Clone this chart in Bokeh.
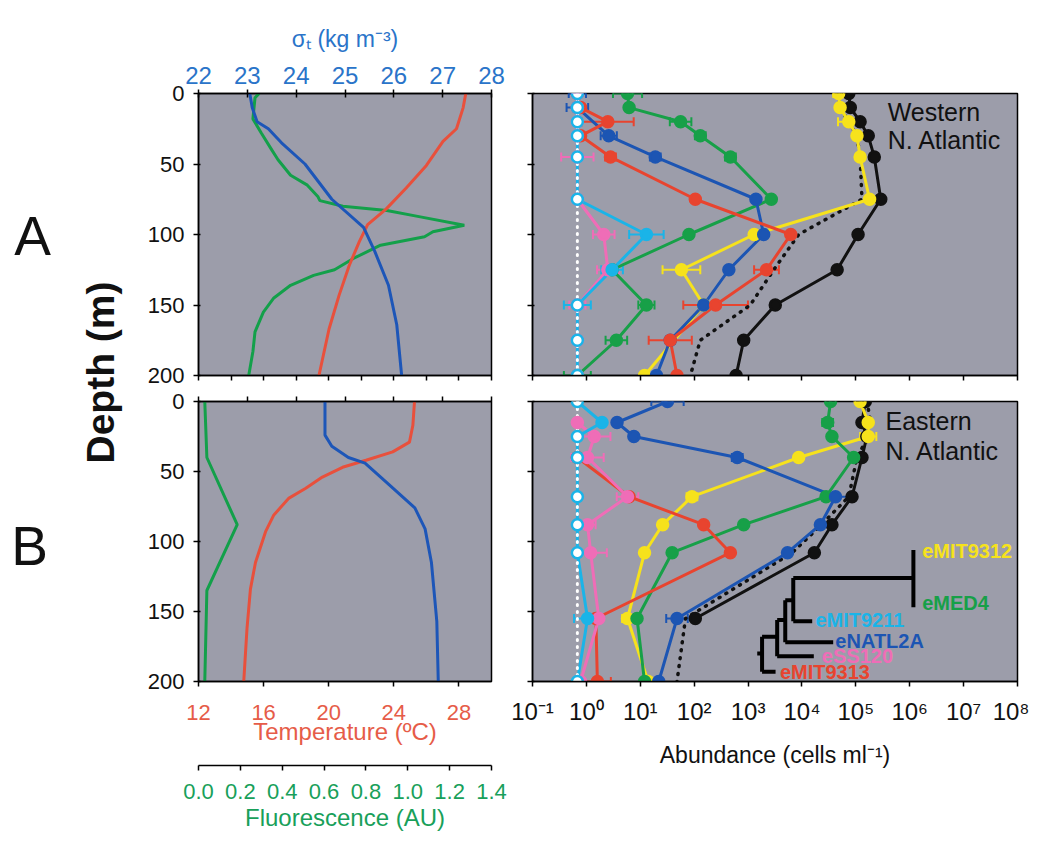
import math
from bokeh.plotting import figure
from bokeh.models import (Range1d, LinearAxis, LogAxis, FixedTicker, Whisker, TeeHead,
                          ColumnDataSource, PrintfTickFormatter)
from bokeh.layouts import row, column
from bokeh.embed import file_html
from bokeh.resources import INLINE
from bokeh.core.properties import value

# ---------------- data ----------------
depth_ticks = [0, 50, 100, 150, 200]
sigma_ticks = [22, 23, 24, 25, 26, 27, 28]
temp_ticks = [12, 16, 20, 24, 28]
temp_minor_ticks = [12, 14, 16, 18, 20, 22, 24, 26, 28, 30]
fluor_ticks = [0.0, 0.2, 0.4, 0.6, 0.8, 1.0, 1.2, 1.4]
abund_ticks = [1e-1, 1e0, 1e1, 1e2, 1e3, 1e4, 1e5, 1e6, 1e7, 1e8]
abund_labels = ["10⁻¹", "10⁰", "10¹", "10²", "10³", "10⁴", "10⁵", "10⁶", "10⁷", "10⁸"]

# Western N. Atlantic physical profiles
W_sigma_depth = [0, 10, 20, 25, 35, 50, 75, 95, 112, 136, 164, 200]
W_sigma = [23.05, 23.1, 23.2, 23.43, 23.7, 24.18, 24.73, 25.38, 25.61, 25.89, 26.06, 26.16]
W_temp_depth = [0, 10, 25, 34, 51, 67, 82, 93, 105, 122, 143, 167, 200]
W_temp = [28.42, 28.26, 27.85, 27.02, 26.0, 24.76, 23.52, 22.39, 21.88, 21.26, 20.64, 20.02, 19.4]
W_fl_depth = [0, 3, 18, 28, 40, 47, 58, 65, 73, 76, 80, 83, 87.5, 93.4, 98, 101.6, 107.6,
              117, 125, 129, 136, 145, 155, 169, 183, 200]
W_fl = [0.29, 0.27, 0.26, 0.30, 0.35, 0.38, 0.44, 0.52, 0.57, 0.58, 0.69, 0.90, 1.06, 1.27,
        1.12, 1.08, 0.87, 0.74, 0.65, 0.55, 0.44, 0.36, 0.31, 0.27, 0.26, 0.24]

# Eastern N. Atlantic physical profiles
E_sigma_depth = [0, 24, 32, 40, 44, 59, 76, 91, 115, 157, 200]
E_sigma = [24.59, 24.59, 24.73, 25.07, 25.41, 25.89, 26.43, 26.64, 26.77, 26.88, 26.91]
E_temp_depth = [0, 17, 29, 36, 42, 47, 54, 62, 69, 81, 93, 115, 134, 162, 200]
E_temp = [25.27, 25.17, 24.96, 23.93, 22.29, 20.85, 19.61, 18.59, 17.56, 16.63, 16.12, 15.5,
          15.19, 14.98, 14.78]
E_fl_depth = [0, 40, 88, 135, 200]
E_fl = [0.03, 0.04, 0.185, 0.04, 0.03]

detection_limit = 0.68

# Western abundances (cells/ml)
W_depth = [0, 10, 20, 30, 45, 75, 100, 125, 150, 175, 200]
W_total = [7.4e4, 7.9e4, 1.2e5, 1.7e5, 2.2e5, 2.9e5, 1.1e5, 4.5e4, 3.2e3, 830, 600]
W_sum = [4.8e4, 5.1e4, 7.4e4, 1.05e5, 1.2e5, 1.3e5, 8.7e3, 3.0e3, 1.1e3, 130, 85]
W_eMIT9312_depth = [0, 10, 20, 30, 45, 75, 100, 125, 150, 200]
W_eMIT9312 = [4.8e4, 5.1e4, 7.4e4, 1.05e5, 1.2e5, 1.8e5, 1300, 58, 150, 12]
W_eMIT9312_err = [0.1, 0, 0.2, 0, 0, 0, 0.05, 0.35, 0, 0]
W_eMED4 = [5.8, 6.2, 56, 130, 470, 2700, 80, 3.0, 13, 3.6, 0.68]
W_eMED4_err = [0.27, 0, 0.2, 0.1, 0.1, 0, 0, 0, 0.15, 0.2, 0.25]
W_eNATL2A_depth = [0, 10, 30, 45, 75, 100, 125, 150, 175, 200]
W_eNATL2A = [0.68, 0.68, 2.6, 19, 1400, 1950, 440, 150, 36, 20]
W_eNATL2A_err = [0.16, 0.2, 0.15, 0.1, 0, 0, 0, 0.05, 0.08, 0]
W_eMIT9313_depth = [10, 20, 30, 45, 75, 100, 125, 150, 175, 200]
W_eMIT9313 = [0.78, 2.5, 0.78, 2.8, 105, 6200, 2200, 250, 36, 48]
W_eMIT9313_err = [0, 0.48, 0, 0.1, 0, 0, 0.23, 0.6, 0.4, 0]
W_eSS120 = [0.68, 0.68, 0.68, 0.68, 0.68, 0.68, 2.1, 2.5, 0.68, 0.68, 0.68]
W_eSS120_err = [0, 0, 0, 0, 0.3, 0, 0.2, 0.2, 0.15, 0, 0]
W_eMIT9211 = [0.68, 0.68, 0.68, 0.68, 0.68, 0.68, 13, 3.0, 0.68, 0.68, 0.68]
W_eMIT9211_err = [0, 0, 0, 0, 0, 0, 0.32, 0.2, 0.25, 0, 0]

# Eastern abundances (cells/ml)
E_depth = [0, 15, 25, 40, 68, 88, 108, 155, 200]
E_total_depth = [0, 15, 25, 40, 68, 88, 108, 155]
E_total = [1.5e5, 1.3e5, 1.6e5, 1.3e5, 8.5e4, 3.6e4, 1.7e4, 105]
E_sum = [1.6e5, 1.9e5, 1.7e5, 1.05e5, 7.4e4, 2.3e4, 6.6e3, 69, 48]
E_eMIT9312 = [1.2e5, 1.7e5, 1.7e5, 8.7e3, 91, 26, 12, 5.8, 14]
E_eMIT9312_err = [0, 0, 0.15, 0, 0.1, 0, 0, 0.1, 0]
E_eMED4 = [3.4e4, 3.0e4, 3.6e4, 9.1e4, 2.8e4, 830, 39, 8.7, 12]
E_eMED4_err = [0, 0.1, 0, 0, 0, 0, 0, 0, 0]
E_eNATL2A = [32, 3.7, 7.6, 630, 4.2e4, 2.2e4, 5.4e3, 48, 22]
E_eNATL2A_err = [0.3, 0, 0, 0.1, 0.25, 0, 0, 0.2, 0]
E_eMIT9313_depth = [40, 68, 88, 108, 155, 200]
E_eMIT9313 = [0.68, 6.2, 150, 470, 1.5, 1.6]
E_eMIT9313_err = [0, 0, 0, 0, 0, 0.25]
E_eSS120_depth = [15, 25, 40, 68, 88, 108, 155, 200]
E_eSS120 = [0.68, 1.4, 1.05, 5.8, 1.05, 1.2, 1.7, 0.78]
E_eSS120_err = [0, 0.3, 0.3, 0.2, 0.15, 0.3, 0, 0]
E_eMIT9211 = [0.68, 1.95, 0.68, 0.68, 0.68, 0.68, 0.68, 1.05, 0.68]
E_eMIT9211_err = [0, 0, 0, 0, 0, 0, 0, 0.25, 0]

# phylogenetic tree inset (abundance, depth)
tree_x0 = [1.17e6, 6900, 6900, 6900, 4900, 4900, 4900, 3470, 3470, 3470, 1820, 1820, 1820, 1480]
tree_y0 = [106, 126, 126, 157, 142, 142, 172, 156, 156, 182, 168, 168, 193, 180]
tree_x1 = [1.17e6, 1.17e6, 6900, 15500, 6900, 4900, 38000, 4900, 3470, 16600, 3470, 1820, 3240, 1820]
tree_y1 = [147, 126, 157, 157, 142, 172, 172, 156, 182, 182, 168, 193, 193, 180]
tree_names = ["eMIT9312", "eMED4", "eMIT9211", "eNATL2A", "eSS120", "eMIT9313"]
tree_label_x = [1.7e6, 1.7e6, 1.78e4, 4.17e4, 2.34e4, 3.9e3]
tree_label_y = [107, 144, 156, 171, 182, 193]

# ---------------- styling ----------------
FONT = "Liberation Sans"
BG = "#9c9daa"
BLUE_TXT, RED_TXT, GRN_TXT = "#2a74c9", "#e65c48", "#18a05a"
COL = dict(black="#111111", yellow="#f6e21c", green="#17a048", blue="#1c55b3",
           red="#e8442f", pink="#ef6db7", cyan="#1ab4e8")
PHY = dict(red="#e8503c", green="#13a04a", blue="#1d56b8")
tree_colors = [COL["yellow"], COL["green"], COL["cyan"], COL["blue"], COL["pink"], COL["red"]]


def style_axis(ax, labels=True, color="#111111", size="22px", standoff=8, tin=3, tout=5):
    ax.axis_line_color = "black"
    ax.axis_line_width = 1.5
    ax.major_tick_line_color = "black"
    ax.major_tick_line_width = 1.5
    ax.minor_tick_line_color = None
    ax.major_tick_in = tin
    ax.major_tick_out = tout
    ax.major_label_text_font = FONT
    if labels:
        ax.major_label_text_font_size = size
        ax.major_label_text_color = color
        ax.major_label_standoff = standoff
    else:
        ax.major_label_text_font_size = "1px"
        ax.major_label_text_color = None
        ax.major_label_standoff = 0
    ax.axis_label_text_font = FONT
    ax.axis_label_text_font_style = "normal"
    ax.axis_label_text_color = "#111111"


def base_fig(w, h, xr, yr, l, r, t, b, log=False):
    kw = dict(width=w, height=h, x_range=xr, y_range=yr, x_axis_location=None,
              y_axis_location=None, toolbar_location=None, output_backend="svg",
              min_border_left=l, min_border_right=r, min_border_top=t, min_border_bottom=b,
              background_fill_color=BG, border_fill_color="white",
              outline_line_color="black", outline_line_width=1.5)
    if log:
        kw["x_axis_type"] = "log"
    p = figure(**kw)
    p.grid.visible = False
    return p


def depth_axis(p, labels):
    ax = LinearAxis(ticker=FixedTicker(ticks=depth_ticks))
    style_axis(ax, labels=labels, size="22px", standoff=9, tin=2, tout=5)
    p.add_layout(ax, "left")


TOP_H, BOT_H, TOP_B, BOT_B = 388, 454, 93, 161

# ---------------- left panels ----------------
def phys_panel(top, sig, sig_d, tmp, tmp_d, fl, fl_d):
    if top:
        p = base_fig(370, TOP_H, Range1d(22, 28), Range1d(200, 0), 60, 17, TOP_B, 13)
        p.extra_x_ranges = {"temp": Range1d(12, 30), "fl": Range1d(0, 1.4)}
        ax = LinearAxis(ticker=FixedTicker(ticks=sigma_ticks), axis_label="σₜ (kg m⁻³)")
        style_axis(ax, labels=True, color=BLUE_TXT, size="24px", standoff=6, tin=4, tout=4)
        ax.axis_label_text_color = BLUE_TXT
        ax.axis_label_text_font_size = "23px"
        ax.axis_label_standoff = 12
        p.add_layout(ax, "above")
        bx = LinearAxis(x_range_name="temp", ticker=FixedTicker(ticks=temp_minor_ticks))
        style_axis(bx, labels=False, tin=0, tout=5)
        p.add_layout(bx, "below")
        sig_name, tmp_name = "default", "temp"
    else:
        p = base_fig(370, BOT_H, Range1d(12, 30), Range1d(200, 0), 60, 17, 13, BOT_B)
        p.extra_x_ranges = {"sig": Range1d(22, 28), "fl": Range1d(0, 1.4)}
        ax = LinearAxis(ticker=FixedTicker(ticks=temp_ticks), axis_label="Temperature (ºC)")
        style_axis(ax, labels=True, color=RED_TXT, size="22px", standoff=18, tin=0, tout=5)
        ax.axis_label_text_color = RED_TXT
        ax.axis_label_text_font_size = "24px"
        ax.axis_label_standoff = -5
        p.add_layout(ax, "below")
        # invisible spacer between the temperature and fluorescence scales
        gap = LinearAxis(x_range_name="fl", ticker=FixedTicker(ticks=[0.7]))
        style_axis(gap, labels=False, tin=0, tout=18)
        gap.axis_line_color = None
        gap.major_tick_line_color = "white"
        p.add_layout(gap, "below")
        fax = LinearAxis(x_range_name="fl", ticker=FixedTicker(ticks=fluor_ticks),
                         formatter=PrintfTickFormatter(format="%.1f"), axis_label="Fluorescence (AU)")
        style_axis(fax, labels=True, color=GRN_TXT, size="22px", standoff=13, tin=0, tout=5)
        fax.axis_label_text_color = GRN_TXT
        fax.axis_label_text_font_size = "24px"
        fax.axis_label_standoff = 2
        p.add_layout(fax, "below")
        tx = LinearAxis(x_range_name="sig", ticker=FixedTicker(ticks=sigma_ticks))
        style_axis(tx, labels=False, tin=0, tout=5)
        p.add_layout(tx, "above")
        sig_name, tmp_name = "sig", "default"
    depth_axis(p, True)
    p.line(fl, fl_d, x_range_name="fl", line_color=PHY["green"], line_width=3)
    p.line(tmp, tmp_d, x_range_name=tmp_name, line_color=PHY["red"], line_width=3)
    p.line(sig, sig_d, x_range_name=sig_name, line_color=PHY["blue"], line_width=3)
    return p


TL = phys_panel(True, W_sigma, W_sigma_depth, W_temp, W_temp_depth, W_fl, W_fl_depth)
BL = phys_panel(False, E_sigma, E_sigma_depth, E_temp, E_temp_depth, E_fl, E_fl_depth)


# ---------------- right panels ----------------
def series(p, x, d, err, color, ring=False):
    p.line(x, d, line_color=color, line_width=3)
    src_e = dict(y=[], lo=[], hi=[])
    for xi, di, ei in zip(x, d, err):
        if ei > 0:
            src_e["y"].append(di)
            src_e["lo"].append(xi / 10 ** ei)
            src_e["hi"].append(xi * 10 ** ei)
    if src_e["y"]:
        w = Whisker(source=ColumnDataSource(src_e), base="y", lower="lo", upper="hi",
                    dimension="width", line_color=color, line_width=2,
                    upper_head=TeeHead(size=9, line_color=color, line_width=2),
                    lower_head=TeeHead(size=9, line_color=color, line_width=2))
        p.add_layout(w)
    fills = [("white" if (ring and xi <= detection_limit) else color) for xi in x]
    return dict(x=x, y=d, fill=fills, color=[color] * len(x))


def abund_panel(top):
    if top:
        p = base_fig(521, TOP_H, Range1d(0.1, 1e8), Range1d(200, 0), 24, 12, TOP_B, 13, log=True)
    else:
        p = base_fig(521, BOT_H, Range1d(0.1, 1e8), Range1d(200, 0), 24, 12, 13, BOT_B, log=True)
    ax = LogAxis(ticker=FixedTicker(ticks=abund_ticks))
    if top:
        style_axis(ax, labels=False, tin=0, tout=5)
    else:
        ax.major_label_overrides = dict(zip(abund_ticks, abund_labels))
        ax.axis_label = "Abundance (cells ml⁻¹)"
        style_axis(ax, labels=True, size="24px", standoff=11, tin=0, tout=5)
        ax.axis_label_text_font_size = "23px"
        ax.axis_label_standoff = 14
    p.add_layout(ax, "below")
    depth_axis(p, False)
    return p


def fill_abund(p, total_d, total, dsum, ssum, ser):
    p.line(total, total_d, line_color=COL["black"], line_width=3)
    p.line(ssum, dsum, line_color=COL["black"], line_width=3.5, line_dash="1 7", line_cap="round")
    marks = [dict(x=total, y=total_d, fill=[COL["black"]] * len(total), color=[COL["black"]] * len(total))]
    for x, d, err, c, ring in ser:
        marks.append(series(p, x, d, err, c, ring))
    p.line([detection_limit, detection_limit], [0, 200], line_color="white", line_width=3,
           line_dash="1 6", line_cap="round")
    for m in marks:
        p.scatter("x", "y", source=ColumnDataSource(m), marker="circle", size=11,
                  fill_color="fill", line_color="color", line_width=2.5)


TR = abund_panel(True)
fill_abund(TR, W_depth, W_total, W_depth, W_sum, [
    (W_eMIT9312, W_eMIT9312_depth, W_eMIT9312_err, COL["yellow"], False),
    (W_eMED4, W_depth, W_eMED4_err, COL["green"], False),
    (W_eNATL2A, W_eNATL2A_depth, W_eNATL2A_err, COL["blue"], False),
    (W_eMIT9313, W_eMIT9313_depth, W_eMIT9313_err, COL["red"], False),
    (W_eSS120, W_depth, W_eSS120_err, COL["pink"], False),
    (W_eMIT9211, W_depth, W_eMIT9211_err, COL["cyan"], True),
])
TR.text(x=[10 ** 5.59], y=[12.8], text=["Western"], text_font=value(FONT), text_font_size="25px",
        text_color="#111111", text_baseline="middle", text_align="left")
TR.text(x=[10 ** 5.59], y=[33], text=["N. Atlantic"], text_font=value(FONT), text_font_size="25px",
        text_color="#111111", text_baseline="middle", text_align="left")

BR = abund_panel(False)
fill_abund(BR, E_total_depth, E_total, E_depth, E_sum, [
    (E_eMIT9312, E_depth, E_eMIT9312_err, COL["yellow"], False),
    (E_eMED4, E_depth, E_eMED4_err, COL["green"], False),
    (E_eNATL2A, E_depth, E_eNATL2A_err, COL["blue"], False),
    (E_eMIT9313, E_eMIT9313_depth, E_eMIT9313_err, COL["red"], False),
    (E_eSS120, E_eSS120_depth, E_eSS120_err, COL["pink"], False),
    (E_eMIT9211, E_depth, E_eMIT9211_err, COL["cyan"], True),
])
BR.text(x=[10 ** 5.55], y=[13.6], text=["Eastern"], text_font=value(FONT), text_font_size="25px",
        text_color="#111111", text_baseline="middle", text_align="left")
BR.text(x=[10 ** 5.55], y=[35], text=["N. Atlantic"], text_font=value(FONT), text_font_size="25px",
        text_color="#111111", text_baseline="middle", text_align="left")
BR.segment(x0=tree_x0, y0=tree_y0, x1=tree_x1, y1=tree_y1, line_color="black", line_width=4)
tree_src = ColumnDataSource(dict(x=tree_label_x, y=tree_label_y, t=tree_names, c=tree_colors))
BR.text(x="x", y="y", text="t", text_color="c", source=tree_src,
        text_font=value(FONT), text_font_size="20px", text_font_style="bold",
        text_baseline="middle", text_align="left")

# ---------------- label strip ----------------
TOTAL_H = TOP_H + BOT_H
S = figure(width=138, height=TOTAL_H, x_range=Range1d(0, 138), y_range=Range1d(TOTAL_H, 0),
           x_axis_location=None, y_axis_location=None, toolbar_location=None,
           output_backend="svg", min_border=0, background_fill_color="white",
           border_fill_color="white", outline_line_color=None)
S.grid.visible = False
S.text(x=[32, 29], y=[235, 545], text=["A", "B"], text_font=value(FONT), text_font_size="55px",
       text_color="#111111", text_align="center", text_baseline="middle")
S.text(x=[100], y=[372], text=["Depth (m)"], angle=math.pi / 2, text_font=value(FONT),
       text_font_size="39px", text_font_style="bold", text_color="#111111",
       text_align="center", text_baseline="middle")

layout = row(S, column(TL, BL), column(TR, BR))
open("out.html", "w").write(file_html(layout, INLINE))
